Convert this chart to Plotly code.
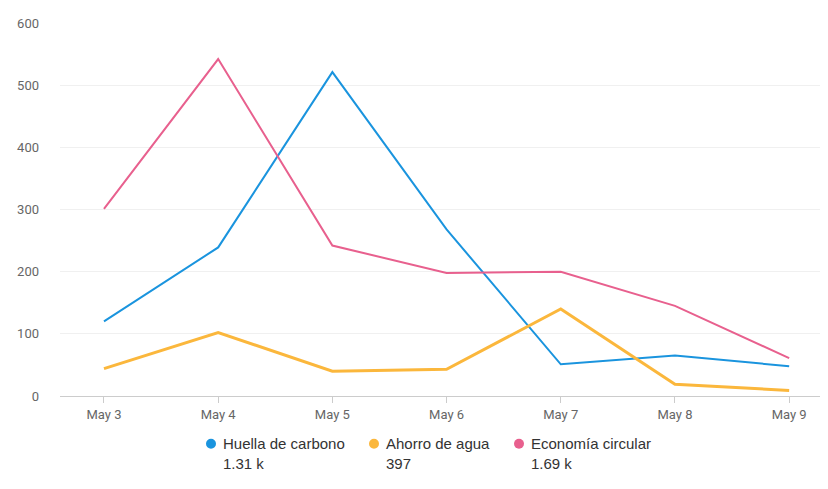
import plotly.graph_objects as go

categories = ["May 3", "May 4", "May 5", "May 6", "May 7", "May 8", "May 9"]
huella = [120, 239, 521, 268, 51, 65, 48]
ahorro = [44, 102, 40, 43, 140, 19, 9]
economia = [301, 542, 242, 198, 200, 145, 61]
names = ["Huella de carbono", "Ahorro de agua", "Economía circular"]
totals = ["1.31 k", "397", "1.69 k"]
colors = ["#1a94de", "#fbb73c", "#e8608e"]
widths = [2, 3, 2]
y_ticks = [0, 100, 200, 300, 400, 500, 600]

W, H = 828, 489
L, R, T, B = 52, 8, 13, 101
PW, PH = W - L - R, H - T - B


def px(fx):
    return (fx - L) / PW


def py(fy):
    return (H - B - fy) / PH


fig = go.Figure()
for name, vals, col, w in zip(names, [huella, ahorro, economia], colors, widths):
    fig.add_trace(go.Scatter(x=categories, y=vals, mode="lines", name=name,
                             line=dict(color=col, width=w), showlegend=False,
                             hoverinfo="x+y+name"))

# custom legend (figure pixel coords)
marker_x = [203, 366, 511]
text_x = [213, 376, 521]
marker_y = 436
text_y = 445.5
for name, tot, col, mx, tx in zip(names, totals, colors, marker_x, text_x):
    fig.add_shape(type="circle", xref="paper", yref="paper",
                  xsizemode="pixel", ysizemode="pixel",
                  xanchor=px(mx), yanchor=py(marker_y),
                  x0=-5, x1=5, y0=-5, y1=5,
                  fillcolor=col, line=dict(width=0))
    fig.add_annotation(xref="paper", yref="paper", x=px(tx), y=py(text_y),
                       xanchor="left", yanchor="middle", align="left",
                       showarrow=False, text=f"{name}<br>{tot}",
                       font=dict(family="Liberation Sans, Arial", size=15, color="#333333"))

fig.update_layout(
    width=W, height=H,
    margin=dict(l=L, r=R, t=T, b=B),
    plot_bgcolor="white", paper_bgcolor="white",
    showlegend=False,
    xaxis=dict(type="category", range=[-0.385, 6.34], showgrid=False,
               showline=True, linecolor="#cccccc", linewidth=1,
               ticks="outside", ticklen=6, tickcolor="#cccccc",
               tickfont=dict(family="Roboto", size=13, color="#666666")),
    yaxis=dict(range=[0, 600], tickvals=y_ticks, showgrid=True, gridcolor="#f0f0f0",
               zeroline=False, showline=False, ticklabelstandoff=20,
               tickfont=dict(family="Roboto", size=13, color="#666666")),
)
fig.write_html("out.html")
